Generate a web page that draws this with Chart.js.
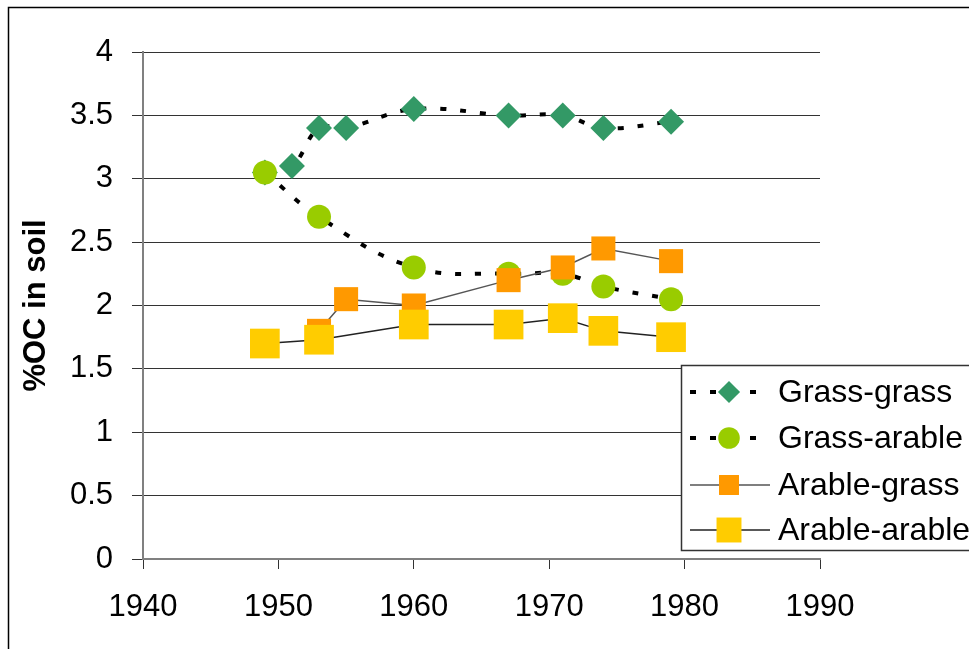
<!DOCTYPE html>
<html>
<head>
<meta charset="utf-8">
<script src="https://cdn.jsdelivr.net/npm/chart.js@4"></script>
<style>
  html, body { margin: 0; padding: 0; background: #fff; }
  #wrap { width: 969px; height: 649px; }
</style>
</head>
<body>
<div id="wrap"><canvas id="ocChart" width="969" height="649"></canvas></div>
<script>
// Soil organic carbon by land-use history

const seriesNames = ['Grass-grass', 'Grass-arable', 'Arable-grass', 'Arable-arable'];

const grassGrassYears = [1949, 1951, 1953, 1955, 1960, 1967, 1971, 1974, 1979];
const grassGrassOC = [3.05, 3.1, 3.4, 3.4, 3.55, 3.5, 3.5, 3.4, 3.45];

const grassArableYears = [1949, 1953, 1960, 1967, 1971, 1974, 1979];
const grassArableOC = [3.05, 2.7, 2.3, 2.25, 2.25, 2.15, 2.05];

const arableGrassYears = [1953, 1955, 1960, 1967, 1971, 1974, 1979];
const arableGrassOC = [1.8, 2.05, 2.0, 2.2, 2.3, 2.45, 2.35];

const arableArableYears = [1949, 1953, 1960, 1967, 1971, 1974, 1979];
const arableArableOC = [1.7, 1.73, 1.85, 1.85, 1.9, 1.8, 1.75];

const xTicks = [1940, 1950, 1960, 1970, 1980, 1990];
const yTicks = [0, 0.5, 1, 1.5, 2, 2.5, 3, 3.5, 4];

const FONT = "'Liberation Sans', Arial, sans-serif";

function toPoints(xs, ys) {
    return xs.map((x, i) => ({ x: x, y: ys[i] }));
}

const datasets = [
    {
        label: seriesNames[0],
        data: toPoints(grassGrassYears, grassGrassOC),
        showLine: true,
        tension: 0.4,
        borderColor: '#000',
        borderWidth: 4,
        borderDash: [6, 14],
        pointStyle: 'rectRot',
        pointRadius: 13,
        pointBackgroundColor: '#339966',
        pointBorderColor: '#339966',
        pointBorderWidth: 0,
        order: 4
    },
    {
        label: seriesNames[1],
        data: toPoints(grassArableYears, grassArableOC),
        showLine: true,
        tension: 0.4,
        borderColor: '#000',
        borderWidth: 4,
        borderDash: [6, 14],
        pointStyle: 'circle',
        pointRadius: 12,
        pointBackgroundColor: '#99CC00',
        pointBorderColor: '#99CC00',
        pointBorderWidth: 0,
        order: 3
    },
    {
        label: seriesNames[2],
        data: toPoints(arableGrassYears, arableGrassOC),
        showLine: true,
        tension: 0,
        borderColor: '#555',
        borderWidth: 1.5,
        pointStyle: 'rect',
        pointRadius: 17,
        pointBackgroundColor: '#FF9900',
        pointBorderColor: '#FF9900',
        pointBorderWidth: 0,
        order: 2
    },
    {
        label: seriesNames[3],
        data: toPoints(arableArableYears, arableArableOC),
        showLine: true,
        tension: 0,
        borderColor: '#222',
        borderWidth: 1.5,
        pointStyle: 'rect',
        pointRadius: 21,
        pointBackgroundColor: '#FFCC00',
        pointBorderColor: '#FFCC00',
        pointBorderWidth: 0,
        order: 1
    }
];

// Frame around the whole chart plus the boxed legend at lower right
const framePlugin = {
    id: 'frame',
    afterDraw(chart) {
        const ctx = chart.ctx;
        ctx.save();
        ctx.strokeStyle = '#000';
        ctx.lineWidth = 1.5;
        ctx.strokeRect(8.5, 7.5, 1100, 800);

        // legend box
        const bx = 681.5, by = 365.5, bw = 400, bh = 185;
        ctx.fillStyle = '#fff';
        ctx.fillRect(bx, by, bw, bh);
        ctx.strokeStyle = '#333';
        ctx.lineWidth = 1.5;
        ctx.strokeRect(bx, by, bw, bh);

        const rows = [392, 438, 485, 530];
        const scale = [0.85, 0.9, 0.83, 0.84];
        chart.data.datasets.forEach((ds, i) => {
            const y = rows[i];
            ctx.save();
            ctx.strokeStyle = ds.borderColor;
            ctx.lineWidth = ds.borderWidth;
            ctx.setLineDash(ds.borderDash || []);
            ctx.beginPath();
            ctx.moveTo(690, y);
            ctx.lineTo(770, y);
            ctx.stroke();
            ctx.restore();

            ctx.fillStyle = ds.pointBackgroundColor;
            ctx.strokeStyle = ds.pointBorderColor;
            Chart.helpers.drawPoint(ctx, {
                pointStyle: ds.pointStyle,
                radius: ds.pointRadius * scale[i],
                borderWidth: 0,
                rotation: 0
            }, 729, y);

            ctx.fillStyle = '#000';
            ctx.font = '32px ' + FONT;
            ctx.textBaseline = 'middle';
            ctx.textAlign = 'left';
            ctx.fillText(ds.label, 778, y + 1);
        });
        ctx.restore();
    }
};

new Chart(document.getElementById('ocChart').getContext('2d'), {
    type: 'scatter',
    data: { datasets: datasets },
    plugins: [framePlugin],
    options: {
        responsive: false,
        animation: false,
        layout: { padding: { left: 0, right: 149, top: 52, bottom: 0 } },
        plugins: {
            legend: { display: false },
            tooltip: { enabled: false }
        },
        scales: {
            x: {
                type: 'linear',
                min: 1940,
                max: 1990,
                afterFit: (scale) => { scale.height = 90; },
                afterBuildTicks: (scale) => { scale.ticks = xTicks.map(v => ({ value: v })); },
                border: { color: '#808080', width: 2 },
                grid: {
                    drawOnChartArea: false,
                    drawTicks: true,
                    tickLength: 10,
                    tickColor: '#333'
                },
                ticks: {
                    color: '#000',
                    font: { family: FONT, size: 31 },
                    padding: 20,
                    maxRotation: 0,
                    callback: (v) => String(v)
                }
            },
            y: {
                min: 0,
                max: 4,
                afterFit: (scale) => { scale.width = 143; },
                afterBuildTicks: (scale) => { scale.ticks = yTicks.map(v => ({ value: v })); },
                border: { color: '#808080', width: 2 },
                grid: {
                    color: '#333',
                    lineWidth: 1,
                    drawTicks: true,
                    tickLength: 11,
                    tickColor: '#333'
                },
                ticks: {
                    color: '#000',
                    font: { family: FONT, size: 31 },
                    padding: 19,
                    callback: (v) => String(v)
                },
                title: {
                    display: true,
                    text: '%OC in soil',
                    color: '#000',
                    font: { family: FONT, size: 31, weight: 'bold' },
                    padding: { top: 18, bottom: 0 }
                }
            }
        }
    }
});
</script>
</body>
</html>
